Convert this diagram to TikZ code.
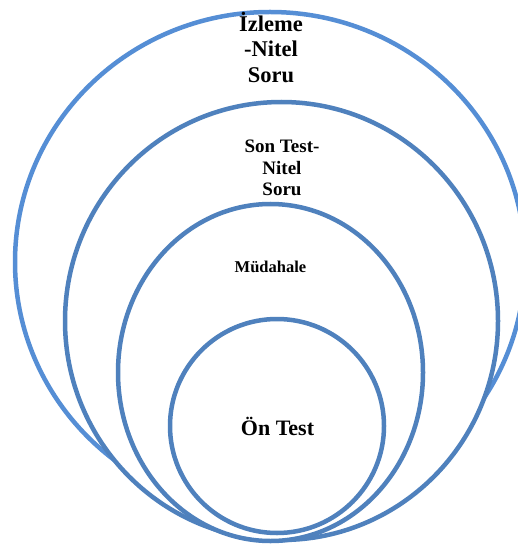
\documentclass[tikz,border=0pt]{standalone}
\usepackage{fontspec}
\setmainfont{Liberation Serif}
\definecolor{outerblue}{RGB}{85,142,213}
\definecolor{ringblue}{RGB}{79,129,189}
\tikzset{
  ring/.style={draw=ringblue, line width=4.5pt, fill=white},
  outerring/.style={draw=outerblue, line width=4.5pt, fill=white},
  lbl/.style={align=center, inner sep=0pt, font=\bfseries}
}
\begin{document}
\begin{tikzpicture}[x=1pt,y=-1pt]
\useasboundingbox (0,0) rectangle (518,545);
\clip (0,0) rectangle (518,545);
\draw[outerring] (270,262) ellipse [x radius=255pt, y radius=250pt];
\draw[ring] (281.5,321) ellipse [x radius=216.5pt, y radius=219pt];
\draw[ring] (270.5,372.5) ellipse [x radius=152.5pt, y radius=168.5pt];
\draw[ring] (277,426) ellipse [x radius=107pt, y radius=107pt];
\node[lbl, font=\bfseries\fontsize{22.5}{25.5}\selectfont] (izleme) at (271,47) {İzleme\\-Nitel\\Soru};
\node[lbl, font=\bfseries\fontsize{19}{21.5}\selectfont] (sontest) at (282,168) {Son Test-\\Nitel\\Soru};
\node[lbl, font=\bfseries\fontsize{16.5}{18}\selectfont] (mudahale) at (270.5,267) {Müdahale};
\node[lbl, font=\bfseries\fontsize{22}{25}\selectfont] (ontest) at (277.5,426) {Ön Test};
\end{tikzpicture}
\end{document}
